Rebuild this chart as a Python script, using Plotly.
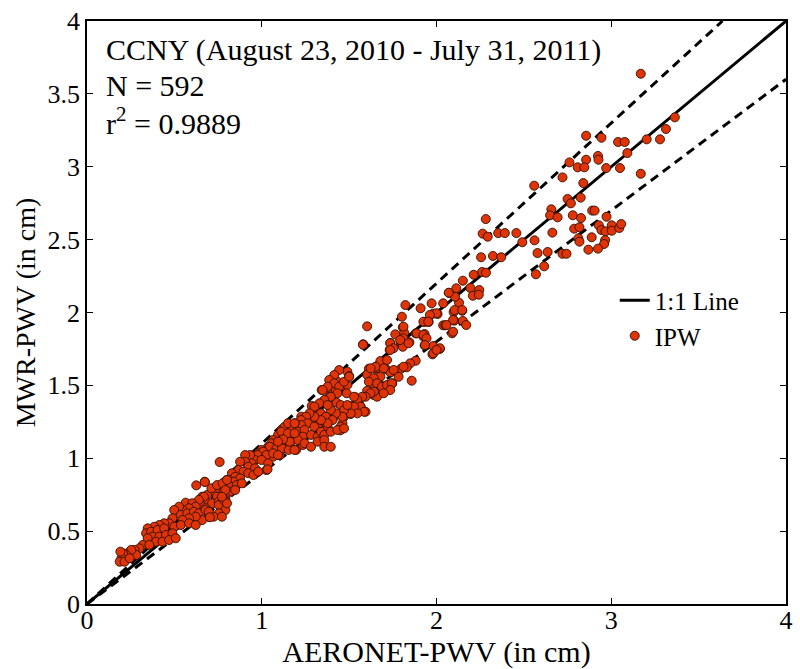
import plotly.graph_objects as go

# AERONET precipitable water vapour (cm) vs. MWR retrieval (cm)
aeronet_pwv = [
    3.169, 2.856, 2.944, 3.039, 3.077, 3.203, 3.279, 3.313, 3.364, 3.092, 2.761, 2.856, 2.924, 2.927,
    2.808, 2.846, 2.971, 3.050, 3.169, 2.721, 2.559, 2.840, 2.750, 2.769, 2.825, 2.657, 2.650, 2.693,
    2.780, 2.827, 2.891, 2.905, 2.973, 2.929, 2.944, 2.967, 3.003, 3.003, 3.046, 3.057, 2.788, 2.818,
    2.812, 2.818, 2.888, 2.965, 2.959, 2.663, 2.561, 2.869, 2.924, 2.578, 2.636, 2.721, 2.744,
    2.282, 2.264, 2.293, 2.353, 2.391, 2.457, 2.491, 2.255, 2.323, 2.370, 2.261, 2.283, 2.213, 2.151,
    2.113, 2.194, 2.245, 2.208, 2.242, 2.072, 2.038, 2.129, 2.147, 2.098, 2.006, 2.616, 2.569, 2.106,
    1.822, 1.909, 1.972, 1.981, 1.930, 1.955, 2.038, 2.051, 2.102, 2.151, 2.089, 1.603, 1.807, 1.815,
    1.764, 1.881, 1.932, 1.925, 1.796, 1.845, 1.736, 1.807, 1.932, 1.981, 2.019, 1.977, 1.581, 1.732,
    1.679, 1.717, 1.881, 1.849, 1.830, 1.796, 1.654, 1.613, 1.713, 1.736, 1.603, 1.490, 1.500, 1.443,
    1.858, 1.660, 1.667, 1.747, 1.726, 1.637, 1.603, 1.641, 1.660, 1.688, 1.707, 1.433, 1.388, 1.424,
    1.471, 1.490, 1.486, 1.343, 1.386, 1.429, 1.537, 1.556, 1.513, 1.566, 1.594, 1.452, 1.286, 1.339,
    1.396, 1.415, 1.471, 1.509, 1.462, 1.452, 1.361, 1.301, 1.226, 1.245, 1.282, 1.320, 1.377,
    2.070, 1.802, 2.104, 2.147, 2.095, 2.057, 2.170, 2.095, 2.000, 1.962, 1.925, 1.953, 1.887, 1.811,
    1.811, 1.840, 1.735, 1.754, 1.735, 1.792, 1.925, 1.943, 1.934, 2.019, 1.981, 2.000, 1.698, 1.651,
    1.623, 1.755, 1.783, 1.811, 1.579, 1.450, 1.235,
    1.679, 1.641, 1.613, 1.660, 1.688, 1.717, 1.745, 1.735, 1.698, 1.641, 1.622, 1.594, 1.575, 1.547,
    1.528, 1.415, 1.386, 1.415, 1.443, 1.433, 1.395, 1.377, 1.348, 1.471, 1.500,
    1.565, 1.528, 1.585, 1.547, 1.509, 1.471, 1.490, 1.462, 1.424, 1.395, 1.358, 1.330, 1.301, 1.377,
    1.339, 1.367, 1.405, 1.377, 1.339, 1.301, 1.273, 1.254, 1.225, 1.263, 1.225, 1.188, 1.160, 1.141,
    1.112, 1.169, 1.207, 1.245, 1.301, 1.093, 1.122, 1.160, 1.188, 1.235, 1.282, 1.320, 1.339, 1.358,
    1.395, 1.433, 1.471, 1.065, 1.103, 1.131, 1.169, 1.207, 1.245, 1.282, 1.320, 1.358, 1.037, 1.056,
    0.999, 0.980, 1.018, 0.961, 0.942, 0.924, 1.150, 1.112, 1.103, 1.065, 1.197, 1.358, 1.395,
    1.056, 1.046, 1.084, 1.116, 1.154, 1.188, 1.008, 1.027, 1.065, 1.093, 0.976, 0.961, 0.933, 0.905,
    0.999, 1.037, 1.027, 0.942, 0.905, 0.876, 0.923, 0.961, 0.867, 0.895, 0.923, 0.952, 0.980, 0.829,
    0.848, 0.876, 0.810, 0.839, 0.792, 0.820, 0.857, 0.886, 0.754, 0.782, 0.820, 0.848, 0.716, 0.687,
    0.659, 0.744, 0.792, 0.678, 0.716, 0.754, 0.792, 0.650, 0.678, 1.131, 1.169, 1.112, 1.150, 1.188,
    1.160, 1.122, 1.093, 1.150, 1.188, 0.759, 0.674,
    0.625, 0.674, 0.712, 0.744, 0.776, 0.801, 0.669, 0.640, 0.565, 0.602, 0.622, 0.584, 0.546, 0.527,
    0.499, 0.537, 0.574, 0.612, 0.640, 0.678, 0.697, 0.659, 0.622, 0.584, 0.546, 0.489, 0.470, 0.442,
    0.414, 0.385, 0.347, 0.338, 0.367, 0.404, 0.442, 0.499, 0.537, 0.584, 0.622, 0.376, 0.414, 0.452,
    0.489, 0.395, 0.432, 0.470, 0.508, 0.347, 0.319, 0.357, 0.300, 0.272, 0.244, 0.282, 0.253, 0.225,
    0.206, 0.197, 0.187, 0.215, 0.244, 0.191, 0.754, 0.782, 0.792, 0.754, 0.725, 0.697, 0.772, 0.801,
    0.792, 0.772, 0.703, 1.033,
]
mwr_pwv = [
    3.638, 3.213, 3.199, 3.170, 3.170, 3.188, 3.188, 3.259, 3.339, 3.094, 3.030, 3.048, 3.074, 3.048,
    2.996, 2.996, 2.991, 2.991, 2.952, 2.927, 2.870, 2.888, 2.779, 2.749, 2.788, 2.708, 2.667, 2.653,
    2.667, 2.648, 2.699, 2.699, 2.657, 2.598, 2.566, 2.557, 2.598, 2.561, 2.580, 2.607, 2.575, 2.585,
    2.509, 2.486, 2.516, 2.497, 2.470, 2.548, 2.495, 2.431, 2.438, 2.408, 2.415, 2.403, 2.403,
    2.641, 2.541, 2.520, 2.545, 2.545, 2.545, 2.482, 2.379, 2.388, 2.379, 2.278, 2.273, 2.259, 2.218,
    2.166, 2.168, 2.154, 2.115, 2.122, 2.134, 2.063, 2.067, 2.012, 2.003, 1.990, 2.317, 2.262, 2.108,
    2.051, 2.029, 2.063, 1.992, 1.935, 1.935, 1.912, 1.912, 1.944, 1.942, 1.857, 1.905, 1.898, 1.861,
    1.850, 1.857, 1.852, 1.834, 1.796, 1.796, 1.791, 1.765, 1.775, 1.770, 1.750, 1.713, 1.782, 1.743,
    1.667, 1.674, 1.669, 1.651, 1.624, 1.614, 1.614, 1.614, 1.610, 1.590, 1.573, 1.594, 1.564, 1.605,
    1.532, 1.559, 1.537, 1.514, 1.487, 1.509, 1.463, 1.434, 1.422, 1.468, 1.496, 1.525, 1.480, 1.468,
    1.496, 1.503, 1.446, 1.468, 1.422, 1.381, 1.418, 1.381, 1.359, 1.354, 1.319, 1.365, 1.359, 1.304,
    1.304, 1.285, 1.285, 1.304, 1.240, 1.216, 1.240, 1.297, 1.285, 1.251, 1.240, 1.228, 1.216,
    2.136, 1.971, 2.017, 2.017, 1.949, 1.914, 1.914, 1.868, 1.995, 1.983, 1.937, 1.937, 1.857, 1.903,
    1.823, 1.789, 1.789, 1.755, 1.743, 1.811, 1.846, 1.823, 1.777, 1.755, 1.720, 1.743, 1.617, 1.628,
    1.617, 1.606, 1.559, 1.628, 1.779, 1.192, 1.091,
    1.560, 1.549, 1.525, 1.514, 1.491, 1.503, 1.514, 1.468, 1.446, 1.457, 1.446, 1.422, 1.422, 1.400,
    1.422, 1.571, 1.537, 1.514, 1.491, 1.446, 1.422, 1.491, 1.468, 1.525, 1.560,
    1.354, 1.354, 1.319, 1.308, 1.308, 1.331, 1.365, 1.285, 1.308, 1.331, 1.400, 1.377, 1.354, 1.365,
    1.308, 1.285, 1.262, 1.240, 1.262, 1.285, 1.308, 1.285, 1.262, 1.240, 1.228, 1.240, 1.228, 1.205,
    1.194, 1.194, 1.182, 1.194, 1.216, 1.160, 1.148, 1.148, 1.160, 1.148, 1.160, 1.148, 1.182, 1.160,
    1.182, 1.194, 1.205, 1.125, 1.114, 1.103, 1.114, 1.125, 1.103, 1.079, 1.114, 1.125, 1.079, 1.057,
    1.057, 1.034, 1.022, 1.011, 1.000, 0.988, 1.068, 1.057, 1.022, 1.011, 1.057, 1.079, 1.079,
    1.103, 1.079, 1.068, 1.068, 1.057, 1.057, 1.045, 1.022, 1.034, 1.022, 1.022, 0.988, 1.022, 1.022,
    0.988, 0.965, 0.919, 0.965, 0.976, 0.976, 0.942, 0.931, 0.919, 0.908, 0.897, 0.885, 0.908, 0.897,
    0.873, 0.862, 0.851, 0.839, 0.828, 0.805, 0.816, 0.828, 0.782, 0.771, 0.771, 0.782, 0.760, 0.748,
    0.736, 0.736, 0.736, 0.702, 0.691, 0.702, 0.714, 0.679, 0.657, 1.216, 1.216, 1.182, 1.171, 1.171,
    1.114, 1.130, 1.114, 1.240, 1.240, 0.974, 0.839,
    0.814, 0.837, 0.794, 0.816, 0.828, 0.851, 0.736, 0.714, 0.695, 0.691, 0.668, 0.657, 0.645, 0.668,
    0.645, 0.611, 0.622, 0.633, 0.622, 0.645, 0.599, 0.576, 0.599, 0.588, 0.576, 0.588, 0.554, 0.554,
    0.542, 0.530, 0.519, 0.485, 0.496, 0.508, 0.519, 0.530, 0.542, 0.554, 0.542, 0.462, 0.462, 0.473,
    0.485, 0.427, 0.427, 0.439, 0.451, 0.451, 0.405, 0.405, 0.382, 0.371, 0.359, 0.336, 0.371, 0.336,
    0.348, 0.314, 0.290, 0.290, 0.314, 0.359, 0.679, 0.714, 0.645, 0.622, 0.599, 0.633, 0.599, 0.691,
    0.782, 0.736, 0.595, 0.924,
]

# Reference lines: 1:1 and the +/-10 % envelope
one_to_one_x = [0, 4]
one_to_one_y = [0, 4]
upper_x = [0, 4 / 1.1]
upper_y = [0, 4]
lower_x = [0, 4]
lower_y = [0, 3.6]

FONT = "'Liberation Serif', 'Times New Roman', 'DejaVu Serif', serif"

fig = go.Figure()

dash_style = dict(color="black", width=3, dash="9px,6px")
fig.add_trace(go.Scatter(x=upper_x, y=upper_y, mode="lines", line=dash_style,
                         showlegend=False, hoverinfo="skip"))
fig.add_trace(go.Scatter(x=lower_x, y=lower_y, mode="lines", line=dash_style,
                         showlegend=False, hoverinfo="skip"))
fig.add_trace(go.Scatter(x=one_to_one_x, y=one_to_one_y, mode="lines", name="1:1 Line",
                         line=dict(color="black", width=3)))
fig.add_trace(go.Scatter(x=aeronet_pwv, y=mwr_pwv, mode="markers", name="IPW",
                         marker=dict(size=9, color="rgb(222,52,8)",
                                     line=dict(color="rgb(50,15,0)", width=0.9))))

note_font = dict(family=FONT, size=30, color="black")
fig.add_annotation(text="CCNY (August 23, 2010 - July 31, 2011)", xref="paper", yref="paper",
                   x=0.025, y=0.95, xanchor="left", yanchor="middle", showarrow=False, font=note_font)
fig.add_annotation(text="N = 592", xref="paper", yref="paper",
                   x=0.025, y=0.889, xanchor="left", yanchor="middle", showarrow=False, font=note_font)
fig.add_annotation(text="r<sup>2</sup> = 0.9889", xref="paper", yref="paper",
                   x=0.025, y=0.829, xanchor="left", yanchor="middle", showarrow=False, font=note_font)

axis_common = dict(showline=True, linecolor="black", linewidth=1.5, mirror="ticks",
                   ticks="inside", ticklen=6, tickwidth=1, tickcolor="black",
                   showgrid=False, zeroline=False,
                   tickfont=dict(family=FONT, size=26, color="black"))

fig.update_xaxes(range=[0, 4], dtick=1, tick0=0, ticklabelstandoff=-8,
                 title=dict(text="AERONET-PWV (in cm)", font=dict(family=FONT, size=30, color="black"),
                            standoff=0),
                 **axis_common)
fig.update_yaxes(range=[0, 4], dtick=0.5, tick0=0,
                 title=dict(text="MWR-PWV (in cm)", font=dict(family=FONT, size=28, color="black"),
                            standoff=4),
                 **axis_common)

fig.update_layout(
    width=800, height=669,
    margin=dict(l=87, r=7, t=21, b=65),
    plot_bgcolor="white", paper_bgcolor="white",
    font=dict(family=FONT, size=26, color="black"),
    legend=dict(x=0.755, y=0.56, xanchor="left", yanchor="top",
                bgcolor="rgba(0,0,0,0)", font=dict(family=FONT, size=25, color="black"),
                itemsizing="trace", tracegroupgap=0),
    showlegend=True,
)

fig.write_html("out.html")
